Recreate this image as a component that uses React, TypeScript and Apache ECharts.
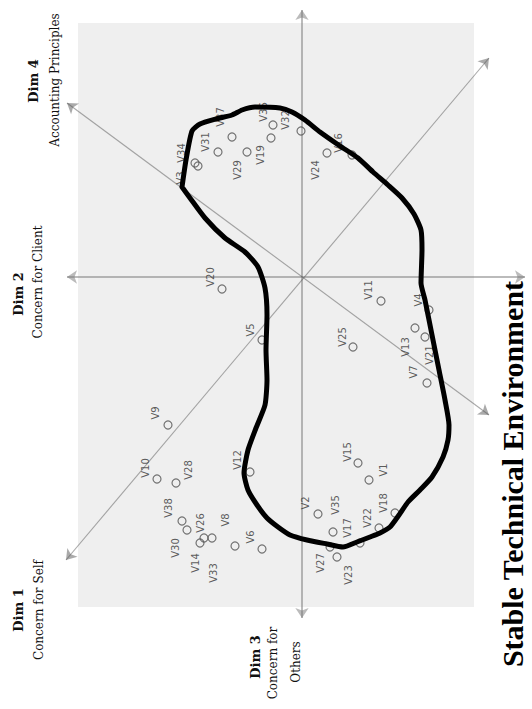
import React, { useEffect, useRef } from "react";
import * as echarts from "echarts";

// Variable names and their scores on the two plotted dimensions (image-oriented)
const varNames = ["V34","V3","V31","V37","V29","V19","V36","V32","V24","V16","V20","V5","V9","V10","V28","V12","V38","V30","V14","V26","V33","V8","V6","V11","V4","V13","V21","V25","V7","V15","V1","V2","V35","V17","V22","V18","V27","V23"];
const xScores = [-1.07,-1.04,-0.84,-0.70,-0.55,-0.31,-0.29,-0.01,0.25,0.50,-0.80,-0.40,-1.34,-1.45,-1.26,-0.52,-1.20,-1.15,-1.02,-0.98,-0.90,-0.67,-0.40,0.79,1.27,1.13,1.23,0.51,1.25,0.56,0.67,0.16,0.31,0.58,0.77,0.93,0.28,0.35];
const yScores = [1.14,1.11,1.25,1.40,1.25,1.39,1.52,1.46,1.24,1.22,-0.12,-0.63,-1.48,-2.02,-2.06,-1.95,-2.44,-2.53,-2.66,-2.61,-2.61,-2.69,-2.72,-0.24,-0.33,-0.51,-0.60,-0.70,-1.06,-1.86,-2.03,-2.37,-2.55,-2.66,-2.51,-2.36,-2.70,-2.80];

// Hand-drawn boundary of the "Stable Technical Environment" cluster
const boundaryX = [-1.20,-1.16,-1.10,-1.02,-0.86,-0.70,-0.60,-0.47,-0.22,-0.10,0.03,0.18,0.38,0.56,0.71,0.86,1.00,1.12,1.19,1.20,1.19,1.23,1.30,1.37,1.43,1.47,1.46,1.41,1.30,1.18,1.06,0.97,0.88,0.78,0.68,0.55,0.41,0.25,0.05,-0.12,-0.24,-0.35,-0.45,-0.54,-0.58,-0.54,-0.46,-0.37,-0.35,-0.36,-0.35,-0.37,-0.44,-0.57,-0.77,-0.97,-1.12,-1.20];
const boundaryY = [0.90,1.17,1.46,1.53,1.58,1.62,1.67,1.70,1.69,1.65,1.57,1.45,1.31,1.19,1.05,0.92,0.79,0.63,0.47,0.27,-0.06,-0.23,-0.58,-0.93,-1.23,-1.48,-1.63,-1.80,-2.00,-2.13,-2.25,-2.38,-2.50,-2.56,-2.60,-2.65,-2.70,-2.67,-2.63,-2.58,-2.50,-2.41,-2.28,-2.13,-1.96,-1.73,-1.51,-1.28,-1.03,-0.73,-0.38,-0.11,0.10,0.25,0.39,0.59,0.79,0.90];

// Dimension axes (start and end points)
const dimAxisIds = ["Dim 2 / Stable", "Dim 3 / up", "Dim 4 diagonal", "Dim 1 diagonal"];
const dimAxisStart = [[-2.35, 0], [0, -3.41], [-2.35, 1.74], [-2.36, -2.83]];
const dimAxisEnd = [[2.23, 0], [0, 2.67], [1.87, -1.38], [1.87, 2.19]];

// label placement on screen (px offsets relative to the marker)
const labelOffset: Record<string, [number, number]> = {
  V34: [-14, -10], V3: [-18, 12], V31: [-13, -10], V37: [-12, -20], V29: [-10, 18], V19: [-11, 17],
  V36: [-10, -13], V32: [-16, -11], V24: [-12, 17], V16: [-14, -12], V20: [-12, -12], V5: [-12, -10],
  V9: [-13, -12], V10: [-12, -11], V28: [12, -13], V12: [-13, -12], V38: [-14, -13], V30: [-12, 18],
  V14: [-5, 20], V26: [-4, -15], V33: [1, 35], V8: [-10, -26], V6: [-12, -12], V11: [-13, -11],
  V4: [-11, -10], V13: [-10, 19], V21: [4, 18], V25: [-11, -10], V7: [-14, -11], V15: [-11, -11],
  V1: [14, -10], V2: [-13, -11], V35: [2, -27], V17: [-13, -15], V22: [-12, -10], V18: [-12, -10],
  V27: [-10, 16], V23: [11, 18],
};

export default function App() {
  const ref = useRef<HTMLDivElement>(null);
  useEffect(() => {
    if (!ref.current) return;
    const chart = echarts.init(ref.current, null, { renderer: "svg" });
    const serifTitle = "'DejaVu Serif', serif";
    const points = varNames.map((n, i) => {
      const o = labelOffset[n] || [-12, -12];
      // label is rotated 90deg, so its offset is given in the rotated frame
      return { name: n, value: [xScores[i], yScores[i]], label: { offset: [-o[1], o[0]] } };
    });
    const boundary = boundaryX.map((x, i) => [x, boundaryY[i]]);
    const axesLines = dimAxisIds.map((id, i) => ({
      name: id,
      coords: [dimAxisStart[i], dimAxisEnd[i]],
      lineStyle: i < 2 ? { color: "#777", width: 2 } : { color: "#555", width: 1.1 },
    }));
    const rot = Math.PI / 2;
    const txt = (x: number, y: number, text: string, font: string) => ({
      type: "text", x, y, rotation: rot,
      style: { text, font, fill: "#111", align: "center", verticalAlign: "middle" },
    });
    chart.setOption({
      animation: false,
      backgroundColor: "#ffffff",
      grid: {
        left: 78, top: 23, width: 396, height: 584,
        show: true, backgroundColor: "#efefef", borderWidth: 0,
      },
      xAxis: { type: "value", min: -2.24, max: 1.72, show: false },
      yAxis: { type: "value", min: -3.3, max: 2.54, show: false },
      graphic: [
        txt(33, 81, "Dim 4", `bold 13px ${serifTitle}`),
        txt(55, 80, "Accounting Principles", `12px ${serifTitle}`),
        txt(18, 294, "Dim 2", `bold 13px ${serifTitle}`),
        txt(38, 282, "Concern for Client", `12px ${serifTitle}`),
        txt(18, 610, "Dim 1", `bold 13px ${serifTitle}`),
        txt(39, 610, "Concern for Self", `12px ${serifTitle}`),
        txt(255, 657, "Dim 3", `bold 13px ${serifTitle}`),
        txt(273, 663, "Concern for", `12px ${serifTitle}`),
        txt(296, 662, "Others", `12px ${serifTitle}`),
        {
          type: "text", x: 512, y: 474, rotation: rot,
          style: { text: "Stable Technical Environment", font: "bold 30px 'Liberation Serif', 'Times New Roman', serif", fill: "#000", align: "center", verticalAlign: "middle" },
        },
      ],
      series: [
        {
          type: "lines",
          coordinateSystem: "cartesian2d",
          clip: false,
          z: 1,
          symbol: ["arrow", "arrow"],
          symbolSize: 10,
          data: axesLines,
        },
        {
          type: "scatter",
          z: 2,
          symbol: "circle",
          symbolSize: 8,
          itemStyle: { color: "rgba(0,0,0,0)", borderColor: "#555", borderWidth: 1.2 },
          label: {
            show: true,
            position: "inside",
            formatter: "{b}",
            rotate: 90,
            fontFamily: "'DejaVu Sans', sans-serif",
            fontSize: 10,
            color: "#333",
          },
          data: points,
        },
        {
          type: "line",
          z: 3,
          clip: false,
          smooth: 0.2,
          symbol: "none",
          lineStyle: { color: "#000", width: 5, cap: "round", join: "round" },
          data: boundary,
        },
      ],
    });
    return () => chart.dispose();
  }, []);
  return <div ref={ref} style={{ position: "absolute", left: 0, top: 0, width: 532, height: 709 }} />;
}
